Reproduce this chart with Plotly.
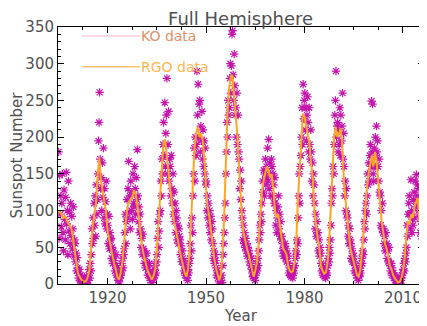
import plotly.graph_objects as go

# RGO smoothed sunspot number, half-year steps starting 1905.0
rgo_start = 1905.0
rgo_ssn = [
    100, 98, 95, 90, 92, 88, 82, 80, 75, 62,
    42, 28, 14, 9, 6, 4, 3, 4, 10, 20,
    50, 80, 95, 110, 150, 172, 140, 125, 115, 100,
    72, 60, 48, 40, 28, 20, 9, 6, 15, 30,
    55, 90, 105, 112, 115, 118, 128, 124, 110, 90,
    65, 52, 40, 30, 21, 15, 10, 6, 11, 20,
    45, 78, 120, 150, 190, 197, 175, 150, 130, 110,
    92, 80, 70, 58, 45, 35, 25, 15, 10, 20,
    45, 100, 140, 185, 205, 214, 200, 205, 195, 170,
    130, 105, 92, 72, 50, 35, 22, 12, 5, 12,
    40, 90, 170, 230, 265, 282, 285, 260, 230, 205,
    165, 130, 85, 68, 55, 48, 40, 30, 16, 10,
    18, 30, 55, 85, 125, 140, 150, 160, 155, 145,
    150, 130, 100, 90, 95, 80, 60, 48, 45, 40,
    25, 18, 16, 18, 30, 60, 115, 160, 205, 232,
    228, 215, 205, 190, 165, 145, 100, 80, 62, 50,
    25, 18, 14, 16, 28, 55, 105, 150, 200, 214,
    200, 205, 212, 190, 140, 115, 85, 68, 48, 38,
    28, 20, 12, 10, 20, 45, 75, 105, 130, 150,
    165, 175, 160, 180, 165, 140, 105, 85, 70, 55,
    48, 38, 25, 20, 12, 8, 4, 2, 3, 8,
    18, 35, 65, 85, 82, 95, 90, 105, 112, 117,
    85, 70, 55, 48,
]
rgo_year = [rgo_start + 0.5 * i for i in range(len(rgo_ssn))]

# KO monthly-ish values, six per year from 1905
ko_start = 1905
ko_ssn = [
    180, 62, 148, 95, 120, 78,
    110, 150, 70, 45, 128, 88,
    60, 118, 152, 82, 100, 40,
    140, 72, 98, 55, 110, 66,
    92, 48, 75, 105, 38, 60,
    55, 30, 42, 18, 36, 22,
    15, 8, 20, 5, 12, 3,
    2, 8, 0, 6, 4, 10,
    0, 4, 2, 8, 1, 6,
    5, 12, 20, 8, 28, 18,
    40, 75, 55, 90, 62, 110,
    80, 120, 65, 135, 95, 115,
    150, 195, 220, 261, 170, 130,
    145, 100, 165, 118, 185, 90,
    130, 82, 112, 140, 75, 95,
    80, 55, 92, 48, 70, 60,
    62, 35, 50, 28, 45, 38,
    32, 18, 25, 40, 12, 22,
    10, 5, 15, 3, 8, 12,
    12, 28, 18, 35, 22, 40,
    48, 70, 95, 55, 85, 115,
    90, 130, 167, 98, 120, 75,
    140, 100, 125, 88, 150, 110,
    105, 160, 130, 95, 145, 115,
    183, 120, 85, 105, 70, 95,
    75, 50, 62, 40, 68, 48,
    45, 28, 38, 22, 30, 42,
    25, 12, 20, 15, 28, 8,
    5, 12, 2, 10, 6, 15,
    8, 20, 12, 25, 15, 30,
    40, 62, 85, 50, 72, 95,
    100, 140, 120, 170, 150, 190,
    220, 175, 247, 160, 205, 230,
    280, 150, 190, 235, 140, 170,
    160, 120, 175, 130, 110, 150,
    95, 125, 85, 110, 70, 100,
    90, 60, 80, 55, 75, 65,
    60, 40, 52, 30, 45, 35,
    30, 18, 25, 12, 22, 15,
    8, 12, 5, 20, 15, 28,
    35, 55, 80, 45, 90, 70,
    120, 150, 185, 140, 200, 175,
    190, 290, 230, 272, 200, 245,
    250, 180, 215, 195, 235, 170,
    210, 160, 195, 150, 185, 140,
    135, 100, 120, 90, 110, 80,
    100, 70, 92, 60, 85, 75,
    55, 35, 45, 28, 40, 32,
    22, 12, 18, 8, 15, 10,
    3, 0, 8, 5, 12, 2,
    25, 40, 55, 70, 90, 110,
    150, 180, 220, 200, 250, 230,
    240, 280, 300, 260, 297, 340,
    345, 285, 250, 313, 270, 230,
    240, 200, 260, 190, 230, 180,
    170, 130, 155, 115, 140, 100,
    90, 60, 80, 55, 70, 50,
    62, 45, 55, 38, 50, 42,
    45, 30, 38, 25, 35, 20,
    15, 10, 18, 8, 12, 5,
    12, 20, 28, 18, 35, 25,
    45, 60, 80, 70, 95, 85,
    110, 140, 125, 155, 120, 150,
    170, 135, 160, 145, 185, 140,
    197, 130, 165, 150, 120, 170,
    160, 120, 150, 135, 110, 145,
    110, 80, 100, 70, 90, 105,
    120, 75, 95, 65, 85, 60,
    65, 45, 55, 38, 50, 42,
    55, 35, 48, 30, 42, 38,
    28, 15, 22, 12, 18, 10,
    12, 20, 8, 18, 15, 25,
    25, 35, 45, 40, 60, 55,
    90, 120, 150, 110, 160, 175,
    200, 240, 190, 272, 225, 250,
    260, 210, 240, 195, 230, 255,
    220, 180, 240, 190, 170, 210,
    180, 140, 165, 120, 150, 135,
    110, 75, 95, 65, 85, 70,
    70, 45, 60, 38, 50, 42,
    28, 18, 25, 12, 20, 15,
    10, 18, 8, 22, 12, 15,
    25, 35, 30, 50, 42, 60,
    80, 110, 130, 120, 160, 150,
    190, 230, 250, 290, 200, 215,
    220, 180, 210, 190, 240, 175,
    230, 195, 215, 260, 170, 205,
    160, 120, 140, 100, 130, 95,
    90, 65, 80, 55, 75, 60,
    55, 35, 48, 30, 42, 38,
    30, 18, 25, 15, 22, 12,
    8, 15, 5, 12, 10, 18,
    15, 25, 35, 28, 45, 40,
    60, 85, 75, 100, 110, 95,
    120, 150, 135, 165, 140, 175,
    190, 160, 249, 180, 245, 150,
    140, 185, 160, 200, 175, 215,
    180, 195, 160, 140, 170, 125,
    120, 80, 100, 75, 110, 70,
    75, 55, 65, 45, 70, 50,
    55, 35, 45, 30, 50, 28,
    25, 18, 28, 12, 22, 15,
    15, 8, 12, 5, 10, 6,
    4, 1, 6, 0, 3, 5,
    2, 0, 5, 8, 12, 15,
    20, 28, 18, 35, 30, 42,
    50, 80, 65, 95, 110, 120,
    95, 75, 142, 100, 70, 88,
    80, 115, 125, 90, 140, 105,
    149, 120, 135, 110, 100, 130,
    95, 70, 85, 65, 90, 75,
    60, 45, 55, 65, 48, 40,
]
ko_year = [ko_start + (i + 0.5) / 6 for i in range(len(ko_ssn))]

x_ticks = [1920, 1950, 1980, 2010]
legend_labels = ["KO data", "RGO data"]

FONT = "DejaVu Sans"
TXT = "#505050"

fig = go.Figure()
fig.add_trace(go.Scatter(
    x=ko_year, y=ko_ssn, mode="markers",
    marker=dict(symbol="asterisk", size=7, color="#c414ac",
                line=dict(color="#c414ac", width=1.2)),
    showlegend=False,
))
fig.add_trace(go.Scatter(
    x=rgo_year, y=rgo_ssn, mode="lines",
    line=dict(color="#ffa526", width=2),
    showlegend=False,
))

# IDL-style legend drawn inside the plot
legend_rows = [(0.965, "#f0b4c8", "#e0906a"), (0.845, "#ffa526", "#ffb64a")]
for (ypos, lcol, tcol), label in zip(legend_rows, legend_labels):
    fig.add_shape(type="line", xref="paper", yref="paper",
                  x0=0.066, x1=0.224, y0=ypos, y1=ypos,
                  line=dict(color=lcol, width=1))
    fig.add_annotation(x=0.222, y=ypos, xref="paper", yref="paper",
                       text=label, showarrow=False, xanchor="left",
                       yanchor="middle", font=dict(family=FONT, size=14, color=tcol))

axis_common = dict(
    showline=True, linecolor="black", linewidth=1, mirror="ticks",
    ticks="inside", tickcolor="black", showgrid=False, zeroline=False,
    tickfont=dict(family=FONT, size=15, color=TXT),
)
fig.update_xaxes(
    range=[1904.9, 2016.4], tickvals=x_ticks, ticklen=6, ticklabeloverflow="allow",
    minor=dict(ticks="inside", dtick=7.5, tick0=1920, ticklen=3, tickcolor="black"),
    title=dict(text="Year", font=dict(family=FONT, size=15, color=TXT), standoff=4),
    **axis_common,
)
fig.update_yaxes(
    range=[0, 350], dtick=50, ticklen=6,
    minor=dict(ticks="inside", dtick=10, ticklen=3, tickcolor="black"),
    title=dict(text="Sunspot Number", font=dict(family=FONT, size=15, color=TXT), standoff=4),
    **axis_common,
)
# page body adds an 8px offset, so the figure is shrunk by that amount
fig.update_layout(
    width=419, height=318,
    margin=dict(l=50, r=3, t=19, b=42, autoexpand=False),
    paper_bgcolor="white", plot_bgcolor="white",
    title=dict(text="Full Hemisphere", x=0.555, xanchor="center", y=0.985, yanchor="top",
               font=dict(family=FONT, size=18, color=TXT)),
)

fig.write_html("out.html")
